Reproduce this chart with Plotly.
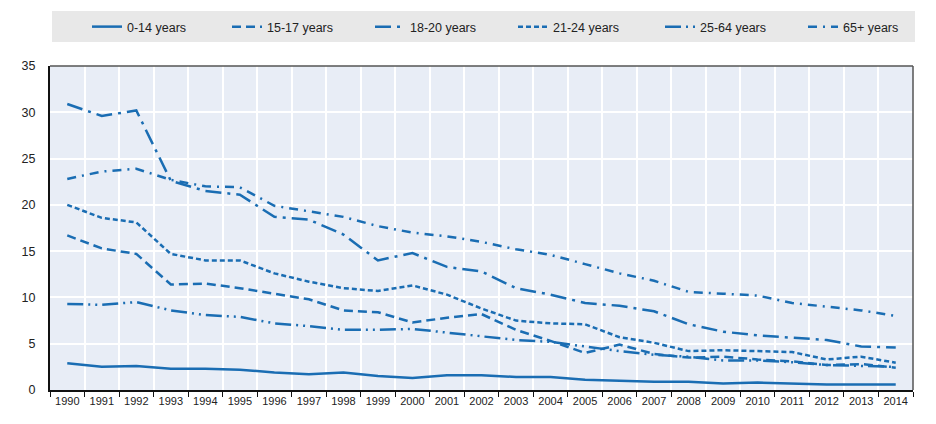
import plotly.graph_objects as go

# road fatalities by age group
years = [str(y) for y in range(1990, 2015)]

age_0_14 = [2.9, 2.5, 2.6, 2.3, 2.3, 2.2, 1.9, 1.7, 1.9, 1.5, 1.3, 1.6, 1.6,
            1.4, 1.4, 1.1, 1.0, 0.9, 0.9, 0.7, 0.8, 0.7, 0.6, 0.6, 0.6]
age_15_17 = [16.7, 15.3, 14.7, 11.4, 11.5, 11.0, 10.4, 9.8, 8.6, 8.4, 7.3, 7.8, 8.2,
             6.5, 5.3, 4.0, 4.9, 3.9, 3.5, 3.6, 3.3, 3.1, 2.7, 2.8, 2.4]
age_18_20 = [30.9, 29.6, 30.2, 22.6, 21.5, 21.1, 18.7, 18.4, 16.8, 14.0, 14.8, 13.3, 12.8,
             11.0, 10.3, 9.4, 9.1, 8.5, 7.1, 6.3, 5.9, 5.65, 5.4, 4.7, 4.6]
age_21_24 = [20.0, 18.6, 18.1, 14.7, 14.0, 14.0, 12.6, 11.7, 11.0, 10.7, 11.3, 10.3, 8.8,
             7.5, 7.2, 7.1, 5.7, 5.1, 4.2, 4.3, 4.2, 4.1, 3.3, 3.6, 2.95]
age_25_64 = [9.3, 9.2, 9.5, 8.6, 8.1, 7.9, 7.2, 6.9, 6.5, 6.5, 6.6, 6.2, 5.8,
             5.4, 5.2, 4.7, 4.2, 3.8, 3.6, 3.2, 3.2, 3.0, 2.7, 2.6, 2.5]
age_65 = [22.8, 23.6, 23.9, 22.7, 22.0, 21.9, 19.9, 19.3, 18.7, 17.7, 17.0, 16.6, 16.0,
          15.2, 14.6, 13.6, 12.6, 11.8, 10.6, 10.4, 10.2, 9.4, 9.0, 8.6, 8.0]

labels = ["0-14 years", "15-17 years", "18-20 years", "21-24 years", "25-64 years", "65+ years"]
series = [age_0_14, age_15_17, age_18_20, age_21_24, age_25_64, age_65]
dashes = ["solid", "9px,5px", "16px,6px,3px,6px", "5px,3px",
          "16px,5px,2px,5px,2px,5px", "9px,6px,2px,6px"]
# left edge (px) of each legend entry
legend_x = [87, 227, 370, 513, 660, 803]

blue = "#1a6db3"
font = "Liberation Sans, Arial, sans-serif"

fig = go.Figure()
legends = {}
for i, (name, vals, dash) in enumerate(zip(labels, series, dashes)):
    key = "legend" if i == 0 else "legend%d" % (i + 1)
    fig.add_trace(go.Scatter(x=years, y=vals, name=name, mode="lines", legend=key,
                             line=dict(color=blue, width=2.5, dash=dash)))
    legends[key] = dict(orientation="h", xref="container", yref="container",
                        x=legend_x[i] / 936, xanchor="left", y=1 - 27 / 424,
                        yanchor="middle", bgcolor="rgba(0,0,0,0)", font=dict(size=12.5))

fig.update_layout(
    width=936, height=424,
    margin=dict(l=50, r=23, t=66, b=34),
    paper_bgcolor="white",
    plot_bgcolor="#e8edf6",
    font=dict(family=font, size=12, color="#222"),
    showlegend=True,
    **legends,
)
# grey band behind the legend
fig.add_shape(type="rect", xref="paper", yref="paper", x0=0.0023, x1=1.0023,
              y0=1.074, y1=1.170, fillcolor="#e8e8e8", line=dict(width=0), layer="below")
fig.update_xaxes(type="category", tickson="boundaries", ticks="outside", ticklen=5,
                 tickcolor="#111", showgrid=True, gridcolor="white", gridwidth=1.5,
                 showline=True, linecolor="#111", linewidth=2, automargin=False,
                 tickfont=dict(size=11), range=[-0.5, 24.5])
fig.update_yaxes(range=[0, 35], dtick=5, showgrid=True, gridcolor="white", gridwidth=1.5,
                 showline=True, linecolor="#111", linewidth=2, zeroline=False,
                 automargin=False, ticklabelstandoff=10, tickfont=dict(size=12.5))
# thin grey border on top and right
fig.add_shape(type="line", xref="paper", yref="paper", x0=0, x1=1, y0=1, y1=1,
              line=dict(color="#555", width=1.5))
fig.add_shape(type="line", xref="paper", yref="paper", x0=1, x1=1, y0=0, y1=1,
              line=dict(color="#555", width=1.5))

fig.write_html("out.html", config={"displayModeBar": False},
               post_script="document.body.style.margin='0';")
